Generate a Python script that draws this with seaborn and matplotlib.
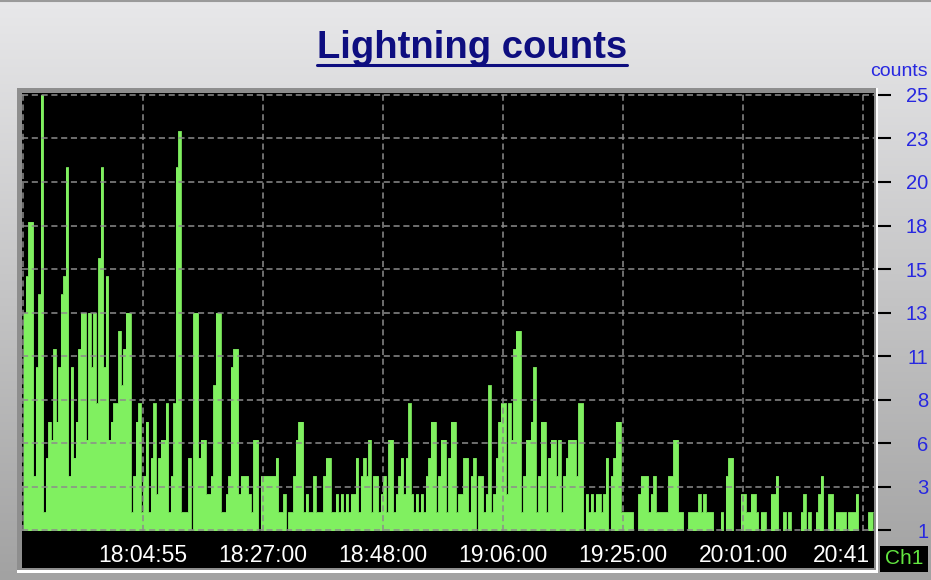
import numpy as np
import matplotlib
matplotlib.use('Agg')
import matplotlib.pyplot as plt
import seaborn as sns
from matplotlib.colors import LinearSegmentedColormap
from matplotlib.patches import Rectangle
from matplotlib.lines import Line2D

# lightning counts per sample (left to right)
counts = [
    13, 15, 18, 18, 4, 10, 14, 25, 2, 5, 7, 6, 11, 7, 10, 14, 15, 21, 4, 10,
    5, 7, 11, 13, 13, 6, 13, 10, 13, 8, 16, 21, 10, 15, 6, 7, 8, 8, 12, 9,
    11, 13, 13, 2, 4, 7, 8, 2, 4, 7, 2, 5, 8, 3, 5, 6, 6, 8, 2, 4,
    8, 21, 23, 2, 2, 2, 5, 1, 13, 13, 5, 6, 6, 3, 3, 4, 9, 13, 13, 2,
    2, 3, 4, 10, 11, 11, 3, 4, 4, 4, 3, 2, 6, 6, 0, 4, 4, 4, 4, 4,
    4, 5, 2, 2, 3, 0, 2, 2, 4, 6, 7, 7, 2, 3, 2, 2, 4, 2, 2, 2,
    4, 5, 5, 2, 2, 3, 2, 3, 2, 3, 2, 3, 3, 5, 2, 4, 5, 4, 6, 2,
    4, 4, 2, 3, 4, 2, 6, 6, 2, 3, 4, 5, 3, 5, 8, 3, 2, 3, 2, 3,
    2, 4, 5, 7, 7, 2, 4, 6, 6, 2, 5, 7, 7, 2, 3, 3, 5, 5, 2, 4,
    5, 0, 4, 4, 2, 3, 9, 2, 3, 5, 7, 8, 8, 3, 8, 6, 11, 12, 12, 2,
    4, 6, 6, 7, 10, 2, 4, 7, 7, 2, 5, 6, 6, 4, 6, 2, 4, 5, 6, 6,
    6, 4, 8, 8, 0, 3, 2, 3, 2, 3, 3, 2, 3, 5, 0, 4, 5, 7, 7, 2,
    2, 2, 2, 2, 0, 0, 3, 4, 4, 4, 2, 3, 4, 2, 2, 2, 2, 2, 4, 4,
    6, 6, 2, 2, 0, 0, 2, 2, 2, 2, 3, 2, 3, 2, 2, 2, 0, 0, 0, 2,
    0, 4, 5, 5, 0, 0, 0, 3, 3, 2, 2, 3, 3, 2, 0, 2, 2, 0, 0, 3,
    3, 4, 0, 0, 2, 0, 2, 0, 0, 0, 0, 2, 3, 0, 2, 0, 0, 2, 3, 4,
    0, 0, 3, 3, 0, 2, 2, 2, 2, 0, 2, 2, 2, 3, 0, 0, 0, 0, 2, 2,
]
time_ticks = [48, 96, 144, 192, 240, 288]
time_labels = ['18:04:55', '18:27:00', '18:48:00', '19:06:00', '19:25:00', '20:01:00']
last_tick = 336
last_label = '20:41'  # cut off at the right edge in the original
count_ticks = [1, 3.4, 5.8, 8.2, 10.6, 13, 15.4, 17.8, 20.2, 22.6, 25]
count_labels = ['1', '3', '6', '8', '11', '13', '15', '18', '20', '23', '25']

W, H = 931, 580


def fx(px):
    return px / W


def fy(py):
    return 1 - py / H


sns.set_style('dark')
plt.rcParams['font.family'] = ['Liberation Sans', 'DejaVu Sans']

green = '#80f060'
blue = '#2828e0'
navy = '#0e0e80'

fig = plt.figure(figsize=(W / 100, H / 100), dpi=100)

# grey gradient background
bg = fig.add_axes([0, 0, 1, 1], zorder=-10)
grad = np.linspace(0, 1, 256).reshape(-1, 1)
bg_cmap = LinearSegmentedColormap.from_list('bg', ['#e8e8ea', '#a2a2a2'])
bg.imshow(grad, aspect='auto', cmap=bg_cmap, extent=[0, 1, 0, 1])
bg.set_axis_off()
fig.add_artist(Line2D([0, 1], [fy(1), fy(1)], transform=fig.transFigure,
                      color='#9a9a9a', linewidth=1.5, zorder=-5))

# bevelled frame around the plot
fig.add_artist(Rectangle((fx(17), fy(573)), (878 - 17) / W, (573 - 88) / H,
                         transform=fig.transFigure, facecolor='white',
                         edgecolor='none', zorder=-5))
fig.add_artist(Rectangle((fx(17), fy(570)), (876 - 17) / W, (570 - 88) / H,
                         transform=fig.transFigure, facecolor='#8e8e8e',
                         edgecolor='none', zorder=-4))

# main plot
ax = fig.add_axes([fx(22), fy(531), (874 - 22) / W, (531 - 93) / H])
ax.set_facecolor('black')
x_edges = np.arange(len(counts) + 1)
y_steps = np.append(counts, counts[-1])
ax.fill_between(x_edges, y_steps, 0, step='post', color=green, linewidth=0, zorder=1)
sns.lineplot(x=x_edges, y=y_steps, drawstyle='steps-post', color=green,
             linewidth=0.6, ax=ax, zorder=1.5)

ax.set_xlim(-0.4, 340.4)
ax.set_ylim(0.97, 25.1)
ax.set_xticks([0] + time_ticks + [last_tick])
ax.set_yticks(count_ticks)
ax.set_yticklabels(count_labels)
ax.set_xlabel('')
ax.set_ylabel('')
ax.grid(True, color='#8c8c8c', linestyle=(0, (4, 2.4)), linewidth=1.1)
ax.set_axisbelow(False)
ax.tick_params(axis='x', bottom=False, labelbottom=False)
ax.yaxis.tick_right()
ax.tick_params(axis='y', right=True, left=False, labelright=True, labelleft=False,
               length=9.4, width=1.5, color='black', pad=26.6,
               labelsize=14.5, labelcolor=blue)
for s in ax.spines.values():
    s.set_visible(False)
ax.spines['right'].set_position(('outward', 3))
for lbl in ax.get_yticklabels():
    lbl.set_horizontalalignment('right')

# black strip with the time labels
strip = fig.add_axes([fx(22), fy(568), (874 - 22) / W, (568 - 531) / H], sharex=ax)
strip.set_facecolor('black')
strip.set_ylim(0, 1)
strip.grid(False)
strip.tick_params(bottom=False, left=False, labelbottom=False, labelleft=False)
for s in strip.spines.values():
    s.set_visible(False)
for t, lab in zip(time_ticks, time_labels):
    strip.text(t, 0.16, lab, color='white', fontsize=16.5, ha='center',
               va='baseline', clip_on=True)
strip.text(0.995, 0.16, last_label, transform=strip.transAxes, color='white',
           fontsize=16.5, ha='right', va='baseline')

# channel box
fig.add_artist(Rectangle((fx(880), fy(572)), 48 / W, 26 / H,
                         transform=fig.transFigure, facecolor='black',
                         edgecolor='none', zorder=1))
fig.text(fx(904), fy(559), 'Ch1', color='#62e640', fontsize=15,
         ha='center', va='center', zorder=2)

fig.text(fx(928), fy(71), 'counts', ha='right', va='center',
         fontsize=14, color=blue)

title = fig.text(fx(472), fy(58), 'Lightning counts', ha='center', va='baseline',
                 fontsize=27.5, fontweight='bold', color=navy)
fig.canvas.draw()
bb = title.get_window_extent()
fig.add_artist(Line2D([bb.x0 / W, bb.x1 / W], [fy(64.5), fy(64.5)],
                      transform=fig.transFigure, color=navy, linewidth=2.2))

fig.savefig('out.png', dpi=100)
